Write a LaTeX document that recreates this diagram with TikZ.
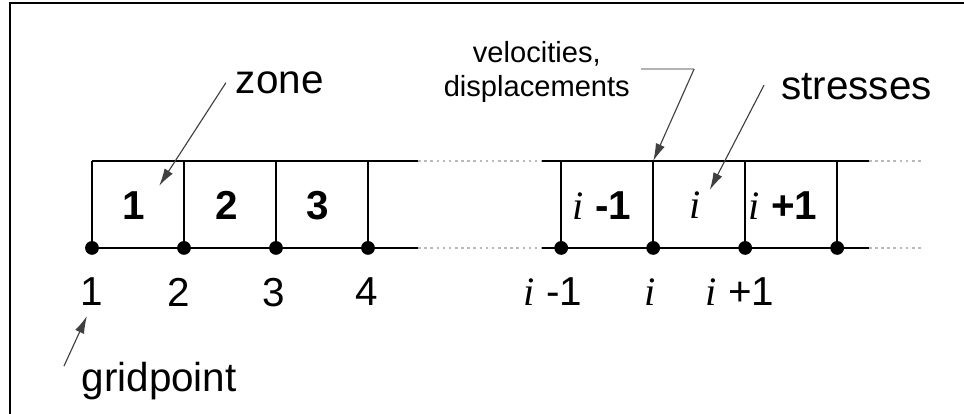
\documentclass[tikz,border=0pt]{standalone}
\usepackage{fontspec}
\setmainfont{Liberation Sans}
\newfontfamily\serifit{Liberation Serif}
\usetikzlibrary{arrows.meta}
\newcommand{\gi}{{\serifit\mdseries\itshape i}}
\tikzset{
	big/.style={font=\fontsize{25}{30}\selectfont},
	small/.style={font=\fontsize{18}{21}\selectfont,align=center},
	zonenum/.style={font=\fontsize{25}{30}\selectfont\bfseries},
	gp/.style={circle,fill=black,inner sep=0pt,minimum size=0.3cm},
	grid/.style={line width=1pt},
	more/.style={gray!55,line width=1.5pt,dash pattern=on 1.6pt off 2.2pt},
	ptr/.style={black!75,line width=0.7pt,-{Latex[length=0.38cm,width=0.21cm]}}
}
\begin{document}
\begin{tikzpicture}
	\useasboundingbox (0,0) rectangle (20.957,9);
	%Khung
	\draw[line width=1.8pt] (0.217,0) -- (0.217,8.935) -- (20.957,8.935);
	%Luoi trai
	\node[gp] (a1) at (2,3.61) {};
	\node[gp] (a2) at (4,3.61) {};
	\node[gp] (a3) at (6,3.61) {};
	\node[gp] (a4) at (8,3.61) {};
	\coordinate (a1t) at (2,5.5);
	\coordinate (a2t) at (4,5.5);
	\coordinate (a3t) at (6,5.5);
	\coordinate (a4t) at (8,5.5);
	\coordinate (aend) at (9.09,3.61);
	\coordinate (aendt) at (9.09,5.5);
	\draw[grid] (a1.center) -- (aend);
	\draw[grid] (a1t) -- (aendt);
	\draw[grid] (a1.center) -- (a1t);
	\draw[grid] (a2.center) -- (a2t);
	\draw[grid] (a3.center) -- (a3t);
	\draw[grid] (a4.center) -- (a4t);
	%Luoi phai
	\node[gp] (b1) at (12.2,3.61) {};
	\node[gp] (b2) at (14.2,3.61) {};
	\node[gp] (b3) at (16.2,3.61) {};
	\node[gp] (b4) at (18.2,3.61) {};
	\coordinate (b1t) at (12.2,5.5);
	\coordinate (b2t) at (14.2,5.5);
	\coordinate (b3t) at (16.2,5.5);
	\coordinate (b4t) at (18.2,5.5);
	\coordinate (bbeg) at (11.78,3.61);
	\coordinate (bbegt) at (11.78,5.5);
	\coordinate (bend) at (18.89,3.61);
	\coordinate (bendt) at (18.89,5.5);
	\draw[grid] (bbeg) -- (bend);
	\draw[grid] (bbegt) -- (bendt);
	\draw[grid] (b1.center) -- (b1t);
	\draw[grid] (b2.center) -- (b2t);
	\draw[grid] (b3.center) -- (b3t);
	\draw[grid] (b4.center) -- (b4t);
	%Cham cham
	\coordinate (cend) at (20.07,3.61);
	\coordinate (cendt) at (20.07,5.5);
	\draw[more] (aend) -- (bbeg);
	\draw[more] (aendt) -- (bbegt);
	\draw[more] (bend) -- (cend);
	\draw[more] (bendt) -- (cendt);
	%So vung
	\node[zonenum] (z1) at (2.91,4.54) {1};
	\node[zonenum] (z2) at (4.93,4.54) {2};
	\node[zonenum] (z3) at (6.91,4.54) {3};
	\node[zonenum] (zim) at (13.09,4.54) {\gi\ -1};
	\node[zonenum] (zi) at (15.11,4.54) {\gi};
	\node[zonenum] (zip) at (17.02,4.54) {\gi\ +1};
	%So diem luoi
	\node[big] (n1) at (2,2.65) {1};
	\node[big] (n2) at (3.89,2.65) {2};
	\node[big] (n3) at (5.96,2.65) {3};
	\node[big] (n4) at (7.98,2.65) {4};
	\node[big] (nim) at (12.02,2.65) {\gi\ -1};
	\node[big] (ni) at (14.13,2.65) {\gi};
	\node[big] (nip) at (16.09,2.65) {\gi\ +1};
	%Chu thich
	\node[big] (zone) at (6.08,7.21) {zone};
	\node[big] (gridpoint) at (3.46,0.72) {gridpoint};
	\node[big] (stresses) at (18.62,7.12) {stresses};
	\node[small] (veldisp) at (11.67,7.43) {velocities,\\displacements};
	%Mui ten
	\coordinate (zonetail) at (4.91,7.20);
	\coordinate (zonetip) at (3.46,4.96);
	\draw[ptr] (zonetail) -- (zonetip);
	\coordinate (gptail) at (1.39,1.04);
	\coordinate (gptip) at (1.89,2.13);
	\draw[ptr] (gptail) -- (gptip);
	\coordinate (sttail) at (16.61,7.15);
	\coordinate (sttip) at (15.43,4.87);
	\draw[ptr] (sttail) -- (sttip);
	\coordinate (vdleft) at (13.93,7.50);
	\coordinate (vdknee) at (15.09,7.50);
	\draw[gray!60,line width=1.2pt] (vdleft) -- (vdknee);
	\draw[ptr] (vdknee) -- (b2t);
\end{tikzpicture}
\end{document}
